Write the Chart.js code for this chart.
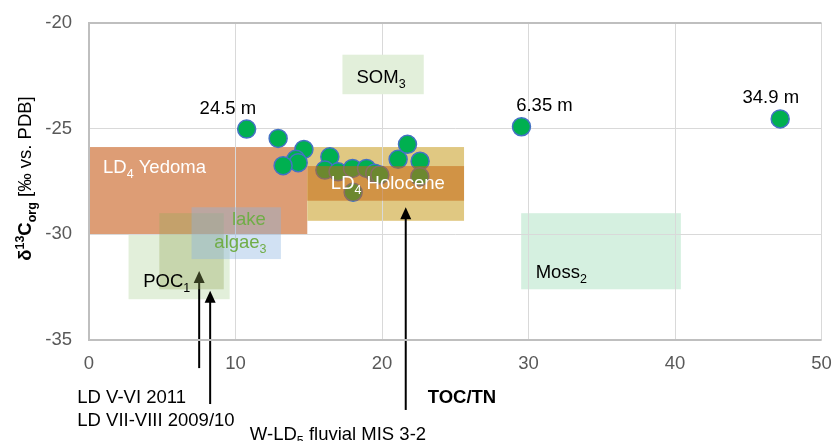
<!DOCTYPE html>
<html>
<head>
<meta charset="utf-8">
<script src="https://cdn.jsdelivr.net/npm/chart.js@4/dist/chart.umd.min.js"></script>
<style>
  html, body { margin: 0; padding: 0; background: #ffffff; }
  #wrap { width: 832px; height: 441px; }
</style>
</head>
<body>
<div id="wrap"><canvas id="chart" width="832" height="441"></canvas></div>
<script>
// Sample measurements: TOC/TN ratio against δ13C of organic carbon
const tocTn = [10.76, 12.91, 14.67, 14.12, 14.28, 13.25, 16.44, 16.10, 17.00, 17.99,
               18.94, 19.50, 18.03, 19.85, 21.10, 21.74, 22.60, 22.58, 29.52, 47.18];
const d13C  = [-25.02, -25.46, -25.98, -26.45, -26.61, -26.75, -26.33, -26.96, -27.04, -26.88,
               -26.88, -27.11, -28.01, -27.19, -26.45, -25.74, -26.54, -27.27, -24.91, -24.54];

// Axis ticks
const xTicks = [0, 10, 20, 30, 40, 50];
const yTicks = [-20, -25, -30, -35];

// Reference ranges (TOC/TN span, δ13C span)
const rangeKeys   = ['yedoma', 'holocene', 'holoceneCore', 'som', 'poc', 'seston', 'lakeAlgae', 'moss'];
const rangeTocTn  = [[0, 14.9], [14.9, 25.6], [14.9, 25.6], [17.3, 22.85], [2.7, 9.6], [4.8, 9.2], [7.0, 13.1], [29.5, 40.4]];
const rangeD13C   = [[-25.87, -30.0], [-25.87, -29.36], [-26.77, -28.41], [-21.5, -23.37], [-30.0, -33.07], [-29.0, -32.6], [-28.72, -31.17], [-29.0, -32.6]];

// Depth labels for selected samples
const depthLabels = ['24.5 m', '6.35 m', '34.9 m'];
const depthAt     = [[9.48, -24.32], [31.09, -24.15], [46.54, -23.77]];

// Arrows marking other sample sets (x, tip, tail)
const arrowX    = [7.52, 8.27, 21.62];
const arrowTip  = [-31.74, -32.67, -28.72];
const arrowTail = [-36.33, -38.03, -38.31];

const FONT = '"Liberation Sans", Arial, Helvetica, sans-serif';
const FS = 18.5;

const rangeStyle = {
  yedoma:       { fill: 'rgb(221,157,117)', layer: 'under' },
  holocene:     { fill: 'rgb(224,200,130)', layer: 'under' },
  moss:         { fill: 'rgb(213,240,224)', layer: 'under' },
  poc:          { fill: 'rgb(226,239,218)', layer: 'under' },
  holoceneCore: { fill: 'rgba(196,104,20,0.55)', layer: 'over' },
  som:          { fill: 'rgb(226,239,218)', layer: 'over' },
  seston:       { fill: 'rgba(150,170,90,0.35)', layer: 'over' },
  lakeAlgae:    { fill: 'rgba(140,180,225,0.40)', layer: 'over' }
};
const overOrder = ['holoceneCore', 'som', 'seston', 'lakeAlgae'];

// Text placed in data space: parts are [text, 'sub' | 'sup' | '', bold]
const boxTexts = [
  { parts: [['LD', ''], ['4', 'sub'], [' Yedoma', '']], at: [0.955, -27.11], align: 'left', color: '#ffffff' },
  { parts: [['SOM', ''], ['3', 'sub']], at: [18.26, -22.82], align: 'left', color: '#000000' },
  { parts: [['LD', ''], ['4', 'sub'], [' Holocene', '']], at: [16.51, -27.87], align: 'left', color: '#ffffff' },
  { parts: [['lake', '']], at: [12.07, -29.56], align: 'right', color: '#70AD47' },
  { parts: [['algae', ''], ['3', 'sub']], at: [12.12, -30.66], align: 'right', color: '#70AD47' },
  { parts: [['POC', ''], ['1', 'sub']], at: [3.70, -32.51], align: 'left', color: '#000000' },
  { parts: [['Moss', ''], ['2', 'sub']], at: [30.49, -32.08], align: 'left', color: '#000000' }
];
const footTexts = [
  { parts: [['LD V-VI 2011', '']], at: [-0.80, -38.0], align: 'left', color: '#000000' },
  { parts: [['LD VII-VIII 2009/10', '']], at: [-0.80, -39.09], align: 'left', color: '#000000' },
  { parts: [['W-LD', ''], ['5', 'sub'], [' fluvial MIS 3-2', '']], at: [10.98, -39.73], align: 'left', color: '#000000' },
  { parts: [['TOC/TN', '', true]], at: [23.12, -37.97], align: 'left', color: '#000000' }
];

function drawRich(ctx, parts, x, y, align, color) {
  const small = 12.5;
  const widths = parts.map(p => {
    ctx.font = (p[2] ? 'bold ' : '') + (p[1] ? small : FS) + 'px ' + FONT;
    return ctx.measureText(p[0]).width;
  });
  const total = widths.reduce((a, b) => a + b, 0);
  let cx = align === 'right' ? x - total : align === 'center' ? x - total / 2 : x;
  ctx.textAlign = 'left';
  ctx.textBaseline = 'alphabetic';
  ctx.fillStyle = color;
  parts.forEach((p, i) => {
    ctx.font = (p[2] ? 'bold ' : '') + (p[1] ? small : FS) + 'px ' + FONT;
    const dy = p[1] === 'sub' ? 5 : p[1] === 'sup' ? -7 : 0;
    ctx.fillText(p[0], cx, y + dy);
    cx += widths[i];
  });
  return total;
}

function fillRange(chart, i) {
  const xs = chart.scales.x, ys = chart.scales.y;
  const [x0, x1] = rangeTocTn[i];
  const [y0, y1] = rangeD13C[i];
  const px0 = xs.getPixelForValue(x0), px1 = xs.getPixelForValue(x1);
  const py0 = ys.getPixelForValue(y0), py1 = ys.getPixelForValue(y1);
  const ctx = chart.ctx;
  ctx.fillStyle = rangeStyle[rangeKeys[i]].fill;
  ctx.fillRect(px0, Math.min(py0, py1), px1 - px0, Math.abs(py1 - py0));
}

const overlay = {
  id: 'overlay',
  beforeDraw(chart) {
    const ctx = chart.ctx;
    ctx.save();
    ctx.fillStyle = '#ffffff';
    ctx.fillRect(0, 0, chart.width, chart.height);
    rangeKeys.forEach((k, i) => { if (rangeStyle[k].layer === 'under') fillRange(chart, i); });
    ctx.restore();
  },
  beforeDatasetsDraw(chart) {
    const ctx = chart.ctx, xs = chart.scales.x, ys = chart.scales.y;
    ctx.save();
    ctx.strokeStyle = '#000000';
    ctx.fillStyle = '#000000';
    ctx.lineWidth = 2;
    arrowX.forEach((ax, i) => {
      const px = xs.getPixelForValue(ax);
      const tip = ys.getPixelForValue(arrowTip[i]);
      const tail = ys.getPixelForValue(arrowTail[i]);
      ctx.beginPath();
      ctx.moveTo(px, tail);
      ctx.lineTo(px, tip + 10);
      ctx.stroke();
      ctx.beginPath();
      ctx.moveTo(px, tip);
      ctx.lineTo(px - 5.5, tip + 12);
      ctx.lineTo(px + 5.5, tip + 12);
      ctx.closePath();
      ctx.fill();
    });
    ctx.restore();
  },
  afterDatasetsDraw(chart) {
    const ctx = chart.ctx;
    ctx.save();
    overOrder.forEach(k => fillRange(chart, rangeKeys.indexOf(k)));
    ctx.restore();
  },
  afterDraw(chart) {
    const ctx = chart.ctx, xs = chart.scales.x, ys = chart.scales.y, a = chart.chartArea;
    ctx.save();
    // plot frame
    ctx.strokeStyle = '#D9D9D9';
    ctx.lineWidth = 1;
    ctx.beginPath();
    ctx.moveTo(a.right, a.top); ctx.lineTo(a.right, a.bottom);
    ctx.stroke();
    ctx.strokeStyle = '#BFBFBF';
    ctx.lineWidth = 2;
    ctx.beginPath();
    ctx.moveTo(a.right, a.top); ctx.lineTo(a.left, a.top);
    ctx.lineTo(a.left, a.bottom); ctx.lineTo(a.right, a.bottom);
    ctx.stroke();

    const place = t => drawRich(ctx, t.parts, xs.getPixelForValue(t.at[0]), ys.getPixelForValue(t.at[1]), t.align, t.color);
    boxTexts.forEach(place);
    footTexts.forEach(place);
    depthLabels.forEach((s, i) => {
      drawRich(ctx, [[s, '']], xs.getPixelForValue(depthAt[i][0]), ys.getPixelForValue(depthAt[i][1]), 'center', '#000000');
    });

    // y-axis title, rotated
    const title = [['δ', '', true], ['13', 'sup', true], ['C', '', true], ['org', 'sub', true], [' [‰ vs. PDB]', '']];
    let len = 0;
    title.forEach(p => { ctx.font = (p[2] ? 'bold ' : '') + (p[1] ? 12.5 : FS) + 'px ' + FONT; len += ctx.measureText(p[0]).width; });
    ctx.translate(31, 178.5);
    ctx.rotate(-Math.PI / 2);
    drawRich(ctx, title, -len / 2, 0, 'left', '#000000');
    ctx.restore();
  }
};

new Chart(document.getElementById('chart'), {
  type: 'scatter',
  data: {
    datasets: [{
      data: tocTn.map((x, i) => ({ x, y: d13C[i] })),
      pointRadius: 9,
      pointHoverRadius: 9,
      backgroundColor: '#00B050',
      borderColor: '#4472C4',
      borderWidth: 1.5
    }]
  },
  options: {
    responsive: false,
    animation: false,
    devicePixelRatio: 1,
    events: [],
    layout: { padding: { top: 23, right: 10, left: 0, bottom: 0 } },
    plugins: { legend: { display: false }, tooltip: { enabled: false } },
    scales: {
      x: {
        type: 'linear',
        min: xTicks[0], max: xTicks[xTicks.length - 1],
        afterBuildTicks: s => { s.ticks = xTicks.map(v => ({ value: v })); },
        afterFit: s => { s.height = 101; s.paddingLeft = 0; s.paddingRight = 0; },
        grid: { color: '#D9D9D9', lineWidth: 1, drawTicks: false },
        border: { display: false },
        ticks: { padding: 13, color: '#595959', font: { family: FONT, size: FS } }
      },
      y: {
        type: 'linear',
        min: yTicks[yTicks.length - 1], max: yTicks[0],
        afterBuildTicks: s => { s.ticks = yTicks.slice().reverse().map(v => ({ value: v })); },
        afterFit: s => { s.width = 89; s.paddingTop = 0; s.paddingBottom = 0; },
        grid: { color: '#D9D9D9', lineWidth: 1, drawTicks: false },
        border: { display: false },
        ticks: { padding: 17, color: '#595959', font: { family: FONT, size: FS } }
      }
    }
  },
  plugins: [overlay]
});
</script>
</body>
</html>
